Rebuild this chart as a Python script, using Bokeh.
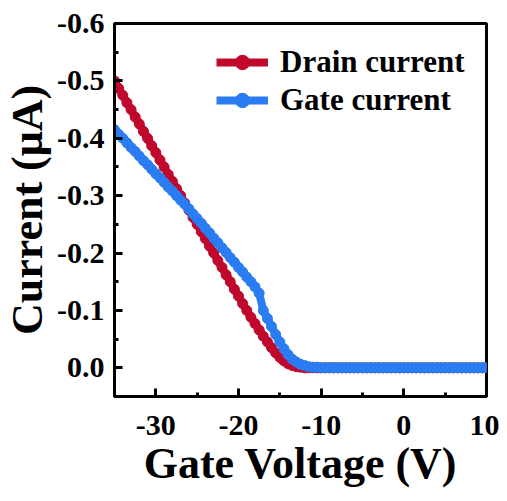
from bokeh.plotting import figure
from bokeh.models import Range1d, FixedTicker, Legend, LegendItem, ColumnDataSource
from bokeh.embed import file_html
from bokeh.resources import INLINE

# ---------------- data ----------------
gate_voltage = [
    -35.0, -34.5, -34.0, -33.5, -33.0, -32.5, -32.0, -31.5, -31.0, -30.5,
    -30.0, -29.5, -29.0, -28.5, -28.0, -27.5, -27.0, -26.5, -26.0, -25.5,
    -25.0, -24.5, -24.0, -23.5, -23.0, -22.5, -22.0, -21.5, -21.0, -20.5,
    -20.0, -19.5, -19.0, -18.5, -18.0, -17.5, -17.0, -16.5, -16.0, -15.5,
    -15.0, -14.5, -14.0, -13.5, -13.0, -12.5, -12.0, -11.5, -11.0, -10.5,
    -10.0, -9.5, -9.0, -8.5, -8.0, -7.5, -7.0, -6.5, -6.0, -5.5,
    -5.0, -4.5, -4.0, -3.5, -3.0, -2.5, -2.0, -1.5, -1.0, -0.5,
    0.0, 0.5, 1.0, 1.5, 2.0, 2.5, 3.0, 3.5, 4.0, 4.5,
    5.0, 5.5, 6.0, 6.5, 7.0, 7.5, 8.0, 8.5, 9.0, 9.5,
    10.0,
]

drain_current = [
    -0.500, -0.487, -0.475, -0.462, -0.450, -0.437, -0.425, -0.412, -0.400, -0.387,
    -0.375, -0.362, -0.350, -0.337, -0.325, -0.312, -0.300, -0.287, -0.275, -0.262,
    -0.250, -0.237, -0.225, -0.212, -0.200, -0.187, -0.175, -0.162, -0.150, -0.137,
    -0.125, -0.112, -0.100, -0.088, -0.077, -0.066, -0.055, -0.045, -0.035, -0.026,
    -0.018, -0.012, -0.007, -0.004, -0.002, -0.001, 0.000, 0.000, 0.000, 0.000,
    0.000, 0.000, 0.000, 0.000, 0.000, 0.000, 0.000, 0.000, 0.000, 0.000,
    0.000, 0.000, 0.000, 0.000, 0.000, 0.000, 0.000, 0.000, 0.000, 0.000,
    0.000, 0.000, 0.000, 0.000, 0.000, 0.000, 0.000, 0.000, 0.000, 0.000,
    0.000, 0.000, 0.000, 0.000, 0.000, 0.000, 0.000, 0.000, 0.000, 0.000,
    0.000,
]

gate_current = [
    -0.415, -0.407, -0.400, -0.392, -0.384, -0.377, -0.369, -0.361, -0.354, -0.346,
    -0.338, -0.331, -0.323, -0.315, -0.308, -0.300, -0.292, -0.285, -0.277, -0.268,
    -0.260, -0.252, -0.243, -0.235, -0.226, -0.218, -0.209, -0.201, -0.192, -0.184,
    -0.175, -0.167, -0.158, -0.150, -0.141, -0.130, -0.100, -0.086, -0.072, -0.058,
    -0.045, -0.033, -0.023, -0.015, -0.010, -0.006, -0.004, -0.002, -0.001, -0.001,
    0.000, 0.000, 0.000, 0.000, 0.000, 0.000, 0.000, 0.000, 0.000, 0.000,
    0.000, 0.000, 0.000, 0.000, 0.000, 0.000, 0.000, 0.000, 0.000, 0.000,
    0.000, 0.000, 0.000, 0.000, 0.000, 0.000, 0.000, 0.000, 0.000, 0.000,
    0.000, 0.000, 0.000, 0.000, 0.000, 0.000, 0.000, 0.000, 0.000, 0.000,
    0.000,
]

x_ticks = [-30, -20, -10, 0, 10]
x_tick_labels = ["-30", "-20", "-10", "0", "10"]
y_ticks = [-0.6, -0.5, -0.4, -0.3, -0.2, -0.1, 0.0]
y_tick_labels = ["-0.6", "-0.5", "-0.4", "-0.3", "-0.2", "-0.1", "0.0"]

series_names = ["Drain current", "Gate current"]
series_colors = ["#C0082C", "#2A7CF2"]

# ---------------- figure ----------------
FONT = "Liberation Serif"

p = figure(width=499, height=493, output_backend="svg", toolbar_location=None,
           x_range=Range1d(-35, 10), y_range=Range1d(0.05, -0.6),
           min_border_left=112, min_border_right=13,
           min_border_top=23, min_border_bottom=97)

p.grid.visible = False
p.background_fill_color = "white"
p.border_fill_color = "white"
p.outline_line_color = "black"
p.outline_line_width = 3
p.outline_line_alpha = 1.0

src = ColumnDataSource(dict(x=gate_voltage, d=drain_current, g=gate_current))

items = []
for col, name, color in zip(["d", "g"], series_names, series_colors):
    ln = p.line("x", col, source=src, line_color=color, line_width=8)
    sc = p.scatter("x", col, source=src, marker="circle", size=10,
                   fill_color=color, line_color=color)
    items.append(LegendItem(label=name, renderers=[ln, sc]))

legend = Legend(items=items, location=(102, 278))
legend.border_line_color = None
legend.background_fill_alpha = 0
legend.padding = 0
legend.margin = 0
legend.spacing = 2
legend.glyph_width = 52
legend.glyph_height = 36
legend.label_standoff = 12
legend.label_text_font = FONT
legend.label_text_font_style = "bold"
legend.label_text_font_size = "31px"
legend.label_text_color = "black"
p.add_layout(legend, "center")

# axes
xa = p.xaxis[0]
ya = p.yaxis[0]
xa.ticker = FixedTicker(ticks=x_ticks, minor_ticks=[-35, -25, -15, -5, 5])
ya.ticker = FixedTicker(ticks=y_ticks,
                        minor_ticks=[-0.55, -0.45, -0.35, -0.25, -0.15, -0.05, 0.05])
xa.major_label_overrides = {t: l for t, l in zip(x_ticks, x_tick_labels)}
ya.major_label_overrides = {t: l for t, l in zip(y_ticks, y_tick_labels)}

for ax in (xa, ya):
    ax.axis_line_color = "black"
    ax.axis_line_width = 3
    ax.major_tick_line_color = "black"
    ax.major_tick_line_width = 3
    ax.minor_tick_line_color = "black"
    ax.minor_tick_line_width = 3
    ax.major_tick_in = 8
    ax.major_tick_out = 0
    ax.minor_tick_in = 4
    ax.minor_tick_out = 0
    ax.major_label_text_font = FONT
    ax.major_label_text_font_style = "bold"
    ax.major_label_text_font_size = "30px"
    ax.major_label_text_color = "black"
    ax.axis_label_text_font = FONT
    ax.axis_label_text_font_style = "bold"
    ax.axis_label_text_font_size = "44px"
    ax.axis_label_text_color = "black"

xa.axis_label = "Gate Voltage (V)"
ya.axis_label = "Current (\u03bcA)"
xa.major_label_standoff = 19
ya.major_label_standoff = 10
xa.axis_label_standoff = 1
ya.axis_label_standoff = 2

open("out.html", "w").write(file_html(p, INLINE))
